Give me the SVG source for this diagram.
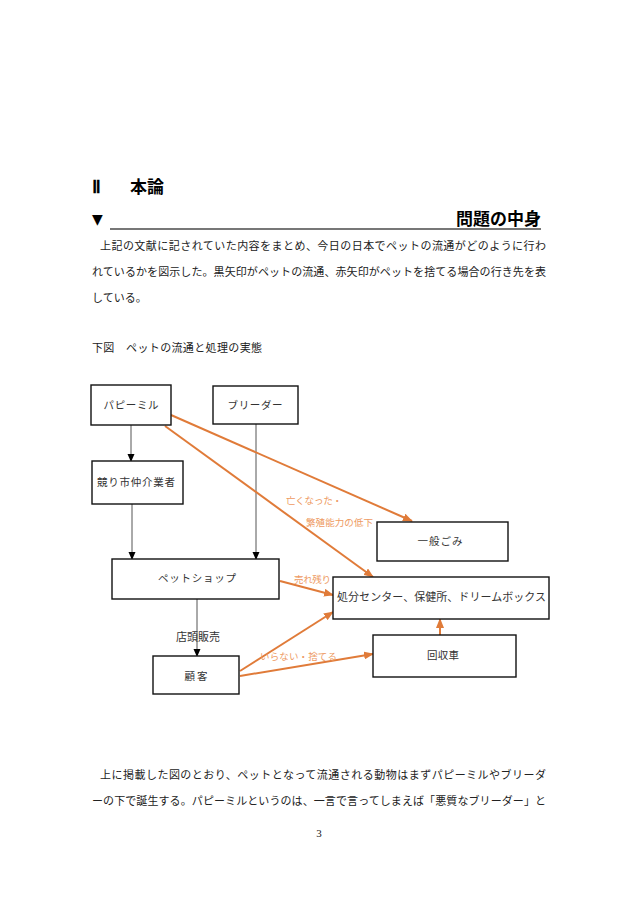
<svg xmlns="http://www.w3.org/2000/svg" width="638" height="903" viewBox="0 0 638 903">
<style>
.t{font-family:"Liberation Serif","Noto Sans CJK JP",serif;font-size:11px;fill:#222}
.h{font-family:"Noto Sans CJK JP",sans-serif;font-size:17px;font-weight:bold;fill:#000}
.box{fill:#fff;stroke:#111;stroke-width:1.4}
.bt{font-family:"Noto Sans CJK JP",sans-serif;font-size:10.5px;fill:#333;text-anchor:middle}
.blk{stroke:#555;stroke-width:1;fill:none}
.org{stroke:#E07B39;stroke-width:2;fill:none}
.ol{font-family:"Noto Sans CJK JP",sans-serif;font-size:9.5px;fill:#EE9A62}
</style>
<defs>
<marker id="ab" markerWidth="8" markerHeight="8" refX="7" refY="4" orient="auto" markerUnits="userSpaceOnUse">
<path d="M0,0.5 L8,4 L0,7.5 Z" fill="#000"/>
</marker>
<marker id="ao" markerWidth="10" markerHeight="8" refX="9" refY="4" orient="auto" markerUnits="userSpaceOnUse">
<path d="M0,0 L10,4 L0,8 Z" fill="#E07B39"/>
</marker>
</defs>
<rect width="638" height="903" fill="#fff"/>

<g id="heading">
<text x="92" y="193" style="font-family:'Liberation Serif',serif;font-size:18px;font-weight:bold;fill:#000">Ⅱ</text>
<text class="h" x="130" y="193">本論</text>
<text x="92" y="224" style="font-family:'DejaVu Sans',sans-serif;font-size:14px;fill:#000">▼</text>
<line x1="110" y1="229" x2="541" y2="229" stroke="#777" stroke-width="2"/>
<text class="h" x="541" y="225" text-anchor="end">問題の中身</text>
</g>

<g id="body-top">
<text class="t" x="100" y="250" textLength="446" lengthAdjust="spacing">上記の文献に記されていた内容をまとめ、今日の日本でペットの流通がどのように行わ</text>
<text class="t" x="92" y="276" textLength="454" lengthAdjust="spacing">れているかを図示した。黒矢印がペットの流通、赤矢印がペットを捨てる場合の行き先を表</text>
<text class="t" x="92" y="302">している。</text>
<text class="t" x="92" y="352" textLength="170" lengthAdjust="spacing">下図　ペットの流通と処理の実態</text>
</g>

<g id="connectors">
<line class="blk" x1="131" y1="425" x2="131" y2="461" marker-end="url(#ab)"/>
<line class="blk" x1="132" y1="504" x2="132" y2="559" marker-end="url(#ab)"/>
<line class="blk" x1="256" y1="424" x2="256" y2="559" marker-end="url(#ab)"/>
<line class="blk" x1="197" y1="599" x2="197" y2="656" marker-end="url(#ab)"/>
<line class="org" x1="171" y1="415" x2="412" y2="521" marker-end="url(#ao)"/>
<line class="org" x1="165" y1="426" x2="373" y2="577" marker-end="url(#ao)"/>
<line class="org" x1="280" y1="581" x2="333" y2="595" marker-end="url(#ao)"/>
<line class="org" x1="240" y1="671" x2="333" y2="612" marker-end="url(#ao)"/>
<line class="org" x1="240" y1="676" x2="373" y2="654" marker-end="url(#ao)"/>
<line class="org" x1="440" y1="635" x2="440" y2="619" marker-end="url(#ao)"/>
<text class="ol" x="286" y="504" textLength="56" lengthAdjust="spacing">亡くなった・</text>
<text class="ol" x="306" y="526" textLength="67" lengthAdjust="spacing">繁殖能力の低下</text>
<text class="ol" x="294" y="583" textLength="37" lengthAdjust="spacing">売れ残り</text>
<text class="ol" x="260" y="660" textLength="77" lengthAdjust="spacing">いらない・捨てる</text>
<text class="bt" x="198" y="641" style="font-size:11px">店頭販売</text>
</g>

<g id="puppymill">
<rect class="box" x="91" y="385" width="80" height="40"/>
<text class="bt" x="131" y="409" textLength="55" lengthAdjust="spacing">パピーミル</text>
</g>
<g id="breeder">
<rect class="box" x="213" y="386" width="85" height="38"/>
<text class="bt" x="255" y="409" textLength="55" lengthAdjust="spacing">ブリーダー</text>
</g>
<g id="auction">
<rect class="box" x="92" y="461" width="91" height="43"/>
<text class="bt" x="136" y="486" textLength="78" lengthAdjust="spacing">競り市仲介業者</text>
</g>
<g id="garbage">
<rect class="box" x="377" y="522" width="131" height="39"/>
<text class="bt" x="440" y="545" textLength="45" lengthAdjust="spacing">一般ごみ</text>
</g>
<g id="petshop">
<rect class="box" x="112" y="559" width="167" height="40"/>
<text class="bt" x="197" y="582" textLength="78" lengthAdjust="spacing">ペットショップ</text>
</g>
<g id="disposal">
<rect class="box" x="333" y="577" width="216" height="42"/>
<text class="bt" x="337" y="601" style="text-anchor:start;font-size:11px" textLength="209" lengthAdjust="spacing">処分センター、保健所、ドリームボックス</text>
</g>
<g id="truck">
<rect class="box" x="373" y="635" width="143" height="42"/>
<text class="bt" x="443" y="659" textLength="32" lengthAdjust="spacing">回収車</text>
</g>
<g id="customer">
<rect class="box" x="153" y="656" width="86" height="38"/>
<text class="bt" x="196" y="680" textLength="23" lengthAdjust="spacing">顧客</text>
</g>

<g id="body-bottom">
<text class="t" x="100" y="779" textLength="446" lengthAdjust="spacing">上に掲載した図のとおり、ペットとなって流通される動物はまずパピーミルやブリーダ</text>
<text class="t" x="92" y="805" textLength="454" lengthAdjust="spacing">ーの下で誕生する。パピーミルというのは、一言で言ってしまえば「悪質なブリーダー」と</text>
<text class="t" x="319" y="837" text-anchor="middle">3</text>
</g>
</svg>
